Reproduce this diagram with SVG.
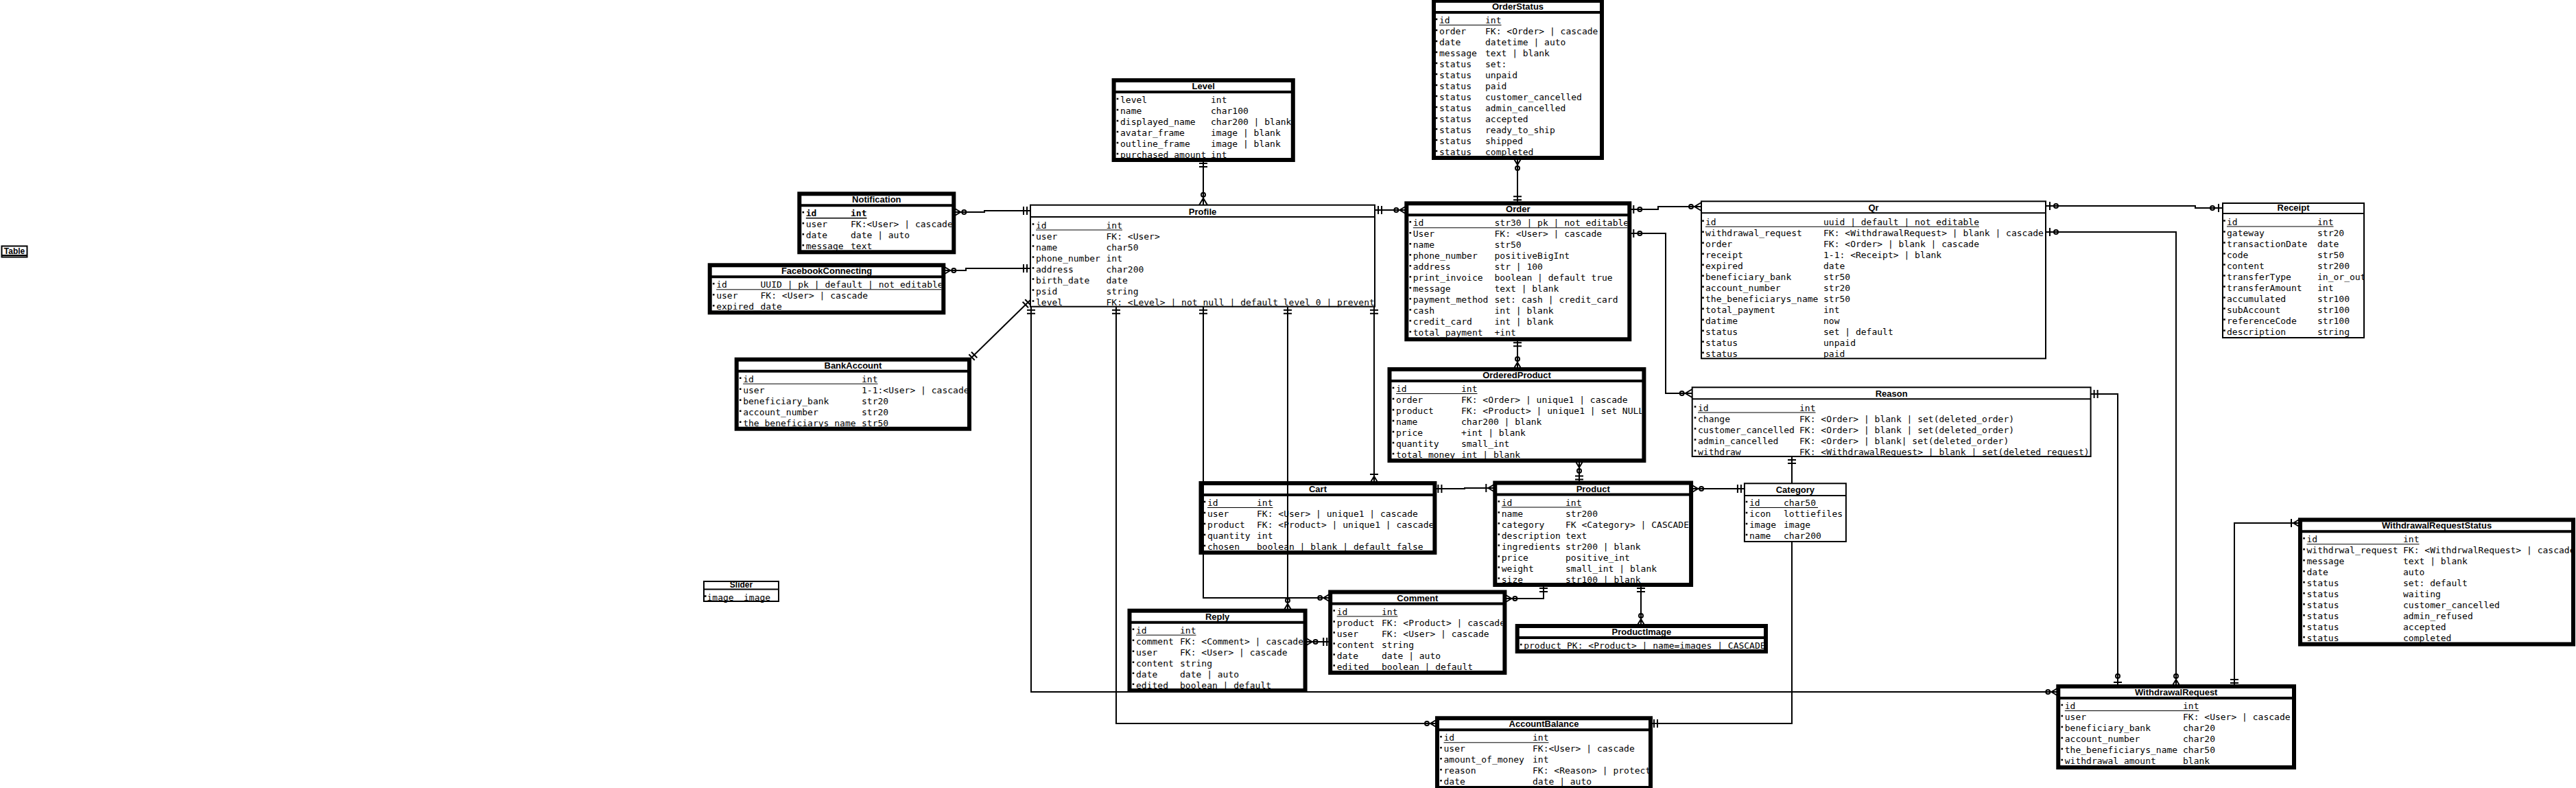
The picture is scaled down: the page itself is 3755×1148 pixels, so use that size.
<svg xmlns="http://www.w3.org/2000/svg" width="3755" height="1148" viewBox="0 0 3755 1148">
<style>
.k{fill:#fff;stroke:#000;stroke-width:6}
.kn{fill:none;stroke:#000;stroke-width:6}
.t{fill:#fff;stroke:#000;stroke-width:2}
.s4{stroke:#000;stroke-width:4;fill:none}
.s2{stroke:#000;stroke-width:2;fill:none}
.u{stroke:#000;stroke-width:1;fill:none}
.h{font-family:"Liberation Sans",Arial,sans-serif;font-weight:bold;font-size:13px;text-anchor:middle;fill:#000}
.r{font-family:"DejaVu Sans Mono",monospace;font-size:13px;fill:#000}
.b{font-weight:bold}
.c{fill:none;stroke:#000;stroke-width:2}
.bl{fill:none;stroke:#000;stroke-width:2.6;stroke-dasharray:2.6 13.4}
</style>
<defs>
<marker id="mOne" viewBox="-30 -12 34 24" refX="0" refY="0" markerWidth="34" markerHeight="24" markerUnits="userSpaceOnUse" orient="auto-start-reverse"><path d="M-5,-6V6M-10,-6V6" fill="none" stroke="#000" stroke-width="2"/></marker>
<marker id="mZM" viewBox="-30 -12 34 24" refX="0" refY="0" markerWidth="34" markerHeight="24" markerUnits="userSpaceOnUse" orient="auto-start-reverse"><path d="M0,-6L-10,0L0,6" fill="none" stroke="#000" stroke-width="2"/><circle cx="-15" cy="0" r="3" fill="none" stroke="#000" stroke-width="2"/></marker>
<marker id="mOM" viewBox="-30 -12 34 24" refX="0" refY="0" markerWidth="34" markerHeight="24" markerUnits="userSpaceOnUse" orient="auto-start-reverse"><path d="M0,-6L-10,0L0,6M-13,-6V6" fill="none" stroke="#000" stroke-width="2"/></marker>
<marker id="mZO" viewBox="-30 -12 34 24" refX="0" refY="0" markerWidth="34" markerHeight="24" markerUnits="userSpaceOnUse" orient="auto-start-reverse"><path d="M-6,-6V6" fill="none" stroke="#000" stroke-width="2"/><circle cx="-15" cy="0" r="3" fill="none" stroke="#000" stroke-width="2"/></marker>
<clipPath id="cOS"><rect x="2093" y="-2" width="239" height="235"/></clipPath>
<clipPath id="cLv"><rect x="1626.6" y="114" width="255.2" height="122"/></clipPath>
<clipPath id="cNt"><rect x="1168.3" y="279.3" width="219" height="91"/></clipPath>
<clipPath id="cFB"><rect x="1037.7" y="383.3" width="334.6" height="75"/></clipPath>
<clipPath id="cBA"><rect x="1076.7" y="520.7" width="333.3" height="107"/></clipPath>
<clipPath id="cPr"><rect x="1503" y="297.7" width="500" height="150"/></clipPath>
<clipPath id="cOr"><rect x="2053.3" y="293.3" width="319" height="204"/></clipPath>
<clipPath id="cQr"><rect x="2481" y="292.3" width="500" height="231"/></clipPath>
<clipPath id="cRc"><rect x="3241" y="295" width="204" height="198"/></clipPath>
<clipPath id="cRs"><rect x="2467.7" y="563.3" width="578.9" height="103"/></clipPath>
<clipPath id="cOP"><rect x="2028.5" y="535" width="364.9" height="139"/></clipPath>
<clipPath id="cCt"><rect x="1753.5" y="701" width="334.9" height="107"/></clipPath>
<clipPath id="cPd"><rect x="2182.3" y="700.5" width="279.8" height="154"/></clipPath>
<clipPath id="cCg"><rect x="2543.9" y="703.3" width="146" height="87"/></clipPath>
<clipPath id="cCm"><rect x="1942.2" y="859.5" width="248.2" height="124"/></clipPath>
<clipPath id="cRp"><rect x="1649.5" y="886.7" width="250.1" height="123"/></clipPath>
<clipPath id="cPI"><rect x="2214.7" y="909" width="356.3" height="43"/></clipPath>
<clipPath id="cAB"><rect x="2098" y="1043.3" width="305" height="107"/></clipPath>
<clipPath id="cWR"><rect x="3003.3" y="997" width="337.7" height="124"/></clipPath>
<clipPath id="cWS"><rect x="3356" y="754.3" width="392" height="188"/></clipPath>
</defs>
<rect width="3755" height="1148" fill="#fff"/>

<g id="connectors">
<path class="c" d="M1390.3,309H1435V307H1502" marker-start="url(#mZM)" marker-end="url(#mOne)"/>
<path class="c" d="M1375.3,394H1408V391H1502" marker-start="url(#mZM)" marker-end="url(#mOne)"/>
<path class="c" d="M1413,524L1502,437" marker-start="url(#mOne)" marker-end="url(#mOne)"/>
<path class="c" d="M1754,233V298.7" marker-start="url(#mOne)" marker-end="url(#mZM)"/>
<path class="c" d="M2004,306H2050.3" marker-start="url(#mOne)" marker-end="url(#mZM)"/>
<path class="c" d="M2212,230V296.3" marker-start="url(#mZM)" marker-end="url(#mOne)"/>
<path class="c" d="M2212,494.3V538" marker-start="url(#mOne)" marker-end="url(#mZM)"/>
<path class="c" d="M2302,671V703.5" marker-start="url(#mZM)" marker-end="url(#mOne)"/>
<path class="c" d="M2091.4,712H2135V711H2179.3" marker-start="url(#mOne)" marker-end="url(#mOM)"/>
<path class="c" d="M2465.1,712H2542.9" marker-start="url(#mZM)" marker-end="url(#mOne)"/>
<path class="c" d="M2612,665V1054H2406" marker-start="url(#mOne)" marker-end="url(#mOne)"/>
<path class="c" d="M1627,446.7V1054H2095" marker-start="url(#mOne)" marker-end="url(#mZM)"/>
<path class="c" d="M1503,446.7V1008H3000.3" marker-start="url(#mOne)" marker-end="url(#mZM)"/>
<path class="c" d="M1754,446.7V871H1939.2" marker-start="url(#mOne)" marker-end="url(#mZM)"/>
<path class="c" d="M1877,446.7V889.7" marker-start="url(#mOne)" marker-end="url(#mZM)"/>
<path class="c" d="M2003,446.7V704" marker-start="url(#mOne)" marker-end="url(#mOM)"/>
<path class="c" d="M2250,852V872H2193.4" marker-start="url(#mOne)" marker-end="url(#mZM)"/>
<path class="c" d="M2392,852V912" marker-start="url(#mOne)" marker-end="url(#mZM)"/>
<path class="c" d="M1902.6,935H1939.2" marker-start="url(#mZM)" marker-end="url(#mOne)"/>
<path class="c" d="M2375.3,305H2417V301H2480" marker-start="url(#mZO)" marker-end="url(#mZM)"/>
<path class="c" d="M2375.3,340H2428V573H2466.7" marker-start="url(#mZO)" marker-end="url(#mZM)"/>
<path class="c" d="M2982,300H3200V303H3240" marker-start="url(#mZO)" marker-end="url(#mZO)"/>
<path class="c" d="M2982,338H3172V1000" marker-start="url(#mZO)" marker-end="url(#mZM)"/>
<path class="c" d="M3047.6,574H3087V1000" marker-start="url(#mOne)" marker-end="url(#mZO)"/>
<path class="c" d="M3353,762H3257V1000" marker-start="url(#mOM)" marker-end="url(#mOne)"/>
</g>

<g id="Table">
<rect class="t" x="2.5" y="358.5" width="37" height="16"/>
<path class="s2" d="M2,372H40"/>
<text class="h" x="21" y="369.5" style="font-size:12px">Table</text>
</g>

<g id="Slider">
<rect class="t" x="1026" y="847" width="109" height="29"/>
<path class="s2" d="M1026,858.5H1135"/>
<text class="h" x="1080.5" y="856" style="font-size:12px">Slider</text>
<text class="r"><tspan x="1030.5" y="874.5">image</tspan><tspan x="1084">image</tspan></text>
<path class="bl" d="M1028.3,867.2V883.2"/>
</g>

<g id="OrderStatus">
<rect class="k" x="2090" y="1" width="245" height="229"/>
<path class="s4" d="M2090,18H2335"/>
<text class="h" x="2212.5" y="14">OrderStatus</text>
<g clip-path="url(#cOS)">
<text class="r"><tspan x="2098" y="34">id</tspan><tspan x="2165">int</tspan><tspan x="2098" y="50">order</tspan><tspan x="2165">FK: &lt;Order&gt; | cascade</tspan><tspan x="2098" y="66">date</tspan><tspan x="2165">datetime | auto</tspan><tspan x="2098" y="82">message</tspan><tspan x="2165">text | blank</tspan><tspan x="2098" y="98">status</tspan><tspan x="2165">set:</tspan><tspan x="2098" y="114">status</tspan><tspan x="2165">unpaid</tspan><tspan x="2098" y="130">status</tspan><tspan x="2165">paid</tspan><tspan x="2098" y="146">status</tspan><tspan x="2165">customer_cancelled</tspan><tspan x="2098" y="162">status</tspan><tspan x="2165">admin_cancelled</tspan><tspan x="2098" y="178">status</tspan><tspan x="2165">accepted</tspan><tspan x="2098" y="194">status</tspan><tspan x="2165">ready_to_ship</tspan><tspan x="2098" y="210">status</tspan><tspan x="2165">shipped</tspan><tspan x="2098" y="226">status</tspan><tspan x="2165">completed</tspan></text>
<path class="u" d="M2098,36.5H2188.5"/>
</g>
<path class="bl" d="M2094,26.7V234.7"/>
</g>

<g id="Level">
<rect class="k" x="1623.6" y="117" width="261.2" height="116"/>
<path class="s4" d="M1623.6,134H1884.8"/>
<text class="h" x="1754.2" y="130">Level</text>
<g clip-path="url(#cLv)">
<text class="r"><tspan x="1633" y="150">level</tspan><tspan x="1765">int</tspan><tspan x="1633" y="166">name</tspan><tspan x="1765">char100</tspan><tspan x="1633" y="182">displayed_name</tspan><tspan x="1765">char200 | blank</tspan><tspan x="1633" y="198">avatar_frame</tspan><tspan x="1765">image | blank</tspan><tspan x="1633" y="214">outline_frame</tspan><tspan x="1765">image | blank</tspan><tspan x="1633" y="230">purchased_amount</tspan><tspan x="1765">int</tspan></text>
</g>
<path class="bl" d="M1629,142.7V238.7"/>
</g>

<g id="Notification">
<rect class="k" x="1165.3" y="282.3" width="225" height="85"/>
<path class="s4" d="M1165.3,299.3H1390.3"/>
<text class="h" x="1277.8" y="295.3">Notification</text>
<g clip-path="url(#cNt)">
<text class="r"><tspan class="b" x="1174.8" y="315.3">id</tspan><tspan class="b" x="1240">int</tspan><tspan x="1174.8" y="331.3">user</tspan><tspan x="1240">FK:&lt;User&gt; | cascade</tspan><tspan x="1174.8" y="347.3">date</tspan><tspan x="1240">date | auto</tspan><tspan x="1174.8" y="363.3">message</tspan><tspan x="1240">text</tspan></text>
<path class="u" style="stroke-width:1.5" d="M1174.8,317.8H1263.5"/>
</g>
<path class="bl" d="M1170.8,308V372"/>
</g>

<g id="FacebookConnecting">
<rect class="k" x="1034.7" y="386.3" width="340.6" height="69"/>
<path class="s4" d="M1034.7,403.3H1375.3"/>
<text class="h" x="1205" y="399.3">FacebookConnecting</text>
<g clip-path="url(#cFB)">
<text class="r"><tspan x="1044.2" y="419.3">id</tspan><tspan x="1108.5">UUID | pk | default | not editable</tspan><tspan x="1044.2" y="435.3">user</tspan><tspan x="1108.5">FK: &lt;User&gt; | cascade</tspan><tspan x="1044.2" y="451.3">expired</tspan><tspan x="1108.5">date</tspan></text>
<path class="u" d="M1044.2,421.8H1375"/>
</g>
<path class="bl" d="M1040.2,412V460"/>
</g>

<g id="BankAccount">
<rect class="k" x="1073.7" y="523.7" width="339.3" height="101"/>
<path class="s4" d="M1073.7,540.7H1413"/>
<text class="h" x="1243.4" y="536.7">BankAccount</text>
<g clip-path="url(#cBA)">
<text class="r"><tspan x="1083.2" y="556.7">id</tspan><tspan x="1256">int</tspan><tspan x="1083.2" y="572.7">user</tspan><tspan x="1256">1-1:&lt;User&gt; | cascade</tspan><tspan x="1083.2" y="588.7">beneficiary_bank</tspan><tspan x="1256">str20</tspan><tspan x="1083.2" y="604.7">account_number</tspan><tspan x="1256">str20</tspan><tspan x="1083.2" y="620.7">the_beneficiarys_name</tspan><tspan x="1256">str50</tspan></text>
<path class="u" d="M1083.2,559.2H1279.5"/>
</g>
<path class="bl" d="M1079.2,549.4V629.4"/>
</g>

<g id="Profile">
<rect class="t" x="1502" y="298.7" width="502" height="148"/>
<path class="s2" d="M1502,316H2004"/>
<text class="h" x="1753" y="312.5">Profile</text>
<g clip-path="url(#cPr)">
<text class="r"><tspan x="1510" y="332.5">id</tspan><tspan x="1612.5">int</tspan><tspan x="1510" y="348.5">user</tspan><tspan x="1612.5">FK: &lt;User&gt;</tspan><tspan x="1510" y="364.5">name</tspan><tspan x="1612.5">char50</tspan><tspan x="1510" y="380.5">phone_number</tspan><tspan x="1612.5">int</tspan><tspan x="1510" y="396.5">address</tspan><tspan x="1612.5">char200</tspan><tspan x="1510" y="412.5">birth_date</tspan><tspan x="1612.5">date</tspan><tspan x="1510" y="428.5">psid</tspan><tspan x="1612.5">string</tspan><tspan x="1510" y="444.5">level</tspan><tspan x="1612.5">FK: &lt;Level&gt; | not null | default level 0 | prevent</tspan></text>
<path class="u" d="M1510,335H1636"/>
</g>
<path class="bl" d="M1506,325.2V453.2"/>
</g>

<g id="Order">
<rect class="k" x="2050.3" y="296.3" width="325" height="198"/>
<path class="s4" d="M2050.3,313.3H2375.3"/>
<text class="h" x="2212.8" y="309.3">Order</text>
<g clip-path="url(#cOr)">
<text class="r"><tspan x="2059.8" y="329.3">id</tspan><tspan x="2178.5">str30 | pk | not editable</tspan><tspan x="2059.8" y="345.3">User</tspan><tspan x="2178.5">FK: &lt;User&gt; | cascade</tspan><tspan x="2059.8" y="361.3">name</tspan><tspan x="2178.5">str50</tspan><tspan x="2059.8" y="377.3">phone_number</tspan><tspan x="2178.5">positiveBigInt</tspan><tspan x="2059.8" y="393.3">address</tspan><tspan x="2178.5">str | 100</tspan><tspan x="2059.8" y="409.3">print_invoice</tspan><tspan x="2178.5">boolean | default true</tspan><tspan x="2059.8" y="425.3">message</tspan><tspan x="2178.5">text | blank</tspan><tspan x="2059.8" y="441.3">payment_method</tspan><tspan x="2178.5">set: cash | credit_card</tspan><tspan x="2059.8" y="457.3">cash</tspan><tspan x="2178.5">int | blank</tspan><tspan x="2059.8" y="473.3">credit_card</tspan><tspan x="2178.5">int | blank</tspan><tspan x="2059.8" y="489.3">total_payment</tspan><tspan x="2178.5">+int</tspan></text>
<path class="u" d="M2059.8,331.8H2375"/>
</g>
<path class="bl" d="M2055.8,322V498"/>
</g>

<g id="Qr">
<rect class="t" x="2480" y="293.3" width="502" height="229"/>
<path class="s2" d="M2480,310.3H2982"/>
<text class="h" x="2731" y="307">Qr</text>
<g clip-path="url(#cQr)">
<text class="r"><tspan x="2486" y="327.8">id</tspan><tspan x="2658">uuid | default | not editable</tspan><tspan x="2486" y="343.8">withdrawal_request</tspan><tspan x="2658">FK: &lt;WithdrawalRequest&gt; | blank | cascade</tspan><tspan x="2486" y="359.8">order</tspan><tspan x="2658">FK: &lt;Order&gt; | blank | cascade</tspan><tspan x="2486" y="375.8">receipt</tspan><tspan x="2658">1-1: &lt;Receipt&gt; | blank</tspan><tspan x="2486" y="391.8">expired</tspan><tspan x="2658">date</tspan><tspan x="2486" y="407.8">beneficiary_bank</tspan><tspan x="2658">str50</tspan><tspan x="2486" y="423.8">account_number</tspan><tspan x="2658">str20</tspan><tspan x="2486" y="439.8">the_beneficiarys_name</tspan><tspan x="2658">str50</tspan><tspan x="2486" y="455.8">total_payment</tspan><tspan x="2658">int</tspan><tspan x="2486" y="471.8">datime</tspan><tspan x="2658">now</tspan><tspan x="2486" y="487.8">status</tspan><tspan x="2658">set | default</tspan><tspan x="2486" y="503.8">status</tspan><tspan x="2658">unpaid</tspan><tspan x="2486" y="519.8">status</tspan><tspan x="2658">paid</tspan></text>
<path class="u" d="M2486,330.3H2885"/>
</g>
<path class="bl" d="M2482.5,320.5V528.5"/>
</g>

<g id="Receipt">
<rect class="t" x="3240" y="296" width="206" height="196"/>
<path class="s2" d="M3240,311H3446"/>
<text class="h" x="3343" y="307">Receipt</text>
<g clip-path="url(#cRc)">
<text class="r"><tspan x="3246" y="327.5">id</tspan><tspan x="3378">int</tspan><tspan x="3246" y="343.5">gateway</tspan><tspan x="3378">str20</tspan><tspan x="3246" y="359.5">transactionDate</tspan><tspan x="3378">date</tspan><tspan x="3246" y="375.5">code</tspan><tspan x="3378">str50</tspan><tspan x="3246" y="391.5">content</tspan><tspan x="3378">str200</tspan><tspan x="3246" y="407.5">transferType</tspan><tspan x="3378">in_or_out</tspan><tspan x="3246" y="423.5">transferAmount</tspan><tspan x="3378">int</tspan><tspan x="3246" y="439.5">accumulated</tspan><tspan x="3378">str100</tspan><tspan x="3246" y="455.5">subAccount</tspan><tspan x="3378">str100</tspan><tspan x="3246" y="471.5">referenceCode</tspan><tspan x="3378">str100</tspan><tspan x="3246" y="487.5">description</tspan><tspan x="3378">string</tspan></text>
<path class="u" d="M3246,330H3401.5"/>
</g>
<path class="bl" d="M3242.5,320.2V496.2"/>
</g>

<g id="Reason">
<rect class="t" x="2466.7" y="564.3" width="580.9" height="100.7"/>
<path class="s2" d="M2466.7,581.3H3047.6"/>
<text class="h" x="2757.2" y="577.5">Reason</text>
<g clip-path="url(#cRs)">
<text class="r"><tspan x="2475" y="598.5">id</tspan><tspan x="2623">int</tspan><tspan x="2475" y="614.5">change</tspan><tspan x="2623">FK: &lt;Order&gt; | blank | set(deleted_order)</tspan><tspan x="2475" y="630.5">customer_cancelled</tspan><tspan x="2623">FK: &lt;Order&gt; | blank | set(deleted_order)</tspan><tspan x="2475" y="646.5">admin_cancelled</tspan><tspan x="2623">FK: &lt;Order&gt; | blank| set(deleted_order)</tspan><tspan x="2475" y="662.5">withdraw</tspan><tspan x="2623">FK: &lt;WithdrawalRequest&gt; | blank | set(deleted_request)</tspan></text>
<path class="u" d="M2475,601H2646.5"/>
</g>
<path class="bl" d="M2471,591.2V671.2"/>
</g>

<g id="OrderedProduct">
<rect class="k" x="2025.5" y="538" width="370.9" height="133"/>
<path class="s4" d="M2025.5,555H2396.4"/>
<text class="h" x="2211" y="551">OrderedProduct</text>
<g clip-path="url(#cOP)">
<text class="r"><tspan x="2035" y="571">id</tspan><tspan x="2130">int</tspan><tspan x="2035" y="587">order</tspan><tspan x="2130">FK: &lt;Order&gt; | unique1 | cascade</tspan><tspan x="2035" y="603">product</tspan><tspan x="2130">FK: &lt;Product&gt; | unique1 | set NULL</tspan><tspan x="2035" y="619">name</tspan><tspan x="2130">char200 | blank</tspan><tspan x="2035" y="635">price</tspan><tspan x="2130">+int | blank</tspan><tspan x="2035" y="651">quantity</tspan><tspan x="2130">small_int</tspan><tspan x="2035" y="667">total_money</tspan><tspan x="2130">int | blank</tspan></text>
<path class="u" d="M2035,573.5H2153.5"/>
</g>
<path class="bl" d="M2031,563.7V675.7"/>
</g>

<g id="Cart">
<rect class="kn" x="1750.5" y="704" width="340.9" height="101"/>
<path class="s4" d="M1750.5,721H2091.4"/>
<text class="h" x="1921" y="717">Cart</text>
<g clip-path="url(#cCt)">
<text class="r"><tspan x="1760" y="737">id</tspan><tspan x="1832">int</tspan><tspan x="1760" y="753">user</tspan><tspan x="1832">FK: &lt;User&gt; | unique1 | cascade</tspan><tspan x="1760" y="769">product</tspan><tspan x="1832">FK: &lt;Product&gt; | unique1 | cascade</tspan><tspan x="1760" y="785">quantity</tspan><tspan x="1832">int</tspan><tspan x="1760" y="801">chosen</tspan><tspan x="1832">boolean | blank | default false</tspan></text>
<path class="u" d="M1760,739.5H1855.5"/>
</g>
<path class="bl" d="M1756,729.7V809.7"/>
</g>

<g id="Product">
<rect class="k" x="2179.3" y="703.5" width="285.8" height="148.5"/>
<path class="s4" d="M2179.3,720.5H2465.1"/>
<text class="h" x="2322.2" y="716.5">Product</text>
<g clip-path="url(#cPd)">
<text class="r"><tspan x="2188.8" y="736.5">id</tspan><tspan x="2282">int</tspan><tspan x="2188.8" y="752.5">name</tspan><tspan x="2282">str200</tspan><tspan x="2188.8" y="768.5">category</tspan><tspan x="2282">FK &lt;Category&gt; | CASCADE</tspan><tspan x="2188.8" y="784.5">description</tspan><tspan x="2282">text</tspan><tspan x="2188.8" y="800.5">ingredients</tspan><tspan x="2282">str200 | blank</tspan><tspan x="2188.8" y="816.5">price</tspan><tspan x="2282">positive_int</tspan><tspan x="2188.8" y="832.5">weight</tspan><tspan x="2282">small_int | blank</tspan><tspan x="2188.8" y="848.5">size</tspan><tspan x="2282">str100 | blank</tspan></text>
<path class="u" d="M2188.8,739H2305.5"/>
</g>
<path class="bl" d="M2184.8,729.2V857.2"/>
</g>

<g id="Category">
<rect class="t" x="2542.9" y="704.3" width="148" height="84.7"/>
<path class="s2" d="M2542.9,722H2690.9"/>
<text class="h" x="2616.9" y="718">Category</text>
<g clip-path="url(#cCg)">
<text class="r"><tspan x="2550" y="737">id</tspan><tspan x="2600">char50</tspan><tspan x="2550" y="753">icon</tspan><tspan x="2600">lottiefiles</tspan><tspan x="2550" y="769">image</tspan><tspan x="2600">image</tspan><tspan x="2550" y="785">name</tspan><tspan x="2600">char200</tspan></text>
<path class="u" d="M2550,739.5H2650"/>
</g>
<path class="bl" d="M2546,729.7V793.7"/>
</g>

<g id="Comment">
<rect class="k" x="1939.2" y="862.5" width="254.2" height="117.5"/>
<path class="s4" d="M1939.2,879.5H2193.4"/>
<text class="h" x="2066.3" y="875.5">Comment</text>
<g clip-path="url(#cCm)">
<text class="r"><tspan x="1948.7" y="895.5">id</tspan><tspan x="2014">int</tspan><tspan x="1948.7" y="911.5">product</tspan><tspan x="2014">FK: &lt;Product&gt; | cascade</tspan><tspan x="1948.7" y="927.5">user</tspan><tspan x="2014">FK: &lt;User&gt; | cascade</tspan><tspan x="1948.7" y="943.5">content</tspan><tspan x="2014">string</tspan><tspan x="1948.7" y="959.5">date</tspan><tspan x="2014">date | auto</tspan><tspan x="1948.7" y="975.5">edited</tspan><tspan x="2014">boolean | default</tspan></text>
<path class="u" d="M1948.7,898H2037.5"/>
</g>
<path class="bl" d="M1944.7,888.2V984.2"/>
</g>

<g id="Reply">
<rect class="k" x="1646.5" y="889.7" width="256.1" height="116.3"/>
<path class="s4" d="M1646.5,906.7H1902.6"/>
<text class="h" x="1774.6" y="902.7">Reply</text>
<g clip-path="url(#cRp)">
<text class="r"><tspan x="1656" y="922.7">id</tspan><tspan x="1720">int</tspan><tspan x="1656" y="938.7">comment</tspan><tspan x="1720">FK: &lt;Comment&gt; | cascade</tspan><tspan x="1656" y="954.7">user</tspan><tspan x="1720">FK: &lt;User&gt; | cascade</tspan><tspan x="1656" y="970.7">content</tspan><tspan x="1720">string</tspan><tspan x="1656" y="986.7">date</tspan><tspan x="1720">date | auto</tspan><tspan x="1656" y="1002.7">edited</tspan><tspan x="1720">boolean | default</tspan></text>
<path class="u" d="M1656,925.2H1743.5"/>
</g>
<path class="bl" d="M1652,915.4V1011.4"/>
</g>

<g id="ProductImage">
<rect class="k" x="2211.7" y="912" width="362.3" height="37"/>
<path class="s4" d="M2211.7,929H2574"/>
<text class="h" x="2392.9" y="925">ProductImage</text>
<g clip-path="url(#cPI)">
<text class="r"><tspan x="2221.2" y="945">product</tspan><tspan x="2284">PK: &lt;Product&gt; | name=images | CASCADE</tspan></text>
</g>
<path class="bl" d="M2217.2,937.7V953.7"/>
</g>

<g id="AccountBalance">
<rect class="k" x="2095" y="1046.3" width="311" height="101.7"/>
<path class="s4" d="M2095,1063.3H2406"/>
<text class="h" x="2250.5" y="1059.3">AccountBalance</text>
<g clip-path="url(#cAB)">
<text class="r"><tspan x="2104.5" y="1079.3">id</tspan><tspan x="2234">int</tspan><tspan x="2104.5" y="1095.3">user</tspan><tspan x="2234">FK:&lt;User&gt; | cascade</tspan><tspan x="2104.5" y="1111.3">amount_of_money</tspan><tspan x="2234">int</tspan><tspan x="2104.5" y="1127.3">reason</tspan><tspan x="2234">FK: &lt;Reason&gt; | protect</tspan><tspan x="2104.5" y="1143.3">date</tspan><tspan x="2234">date | auto</tspan></text>
<path class="u" d="M2104.5,1081.8H2257.5"/>
</g>
<path class="bl" d="M2100.5,1072V1152"/>
</g>

<g id="WithdrawalRequest">
<rect class="k" x="3000.3" y="1000" width="343.7" height="118"/>
<path class="s4" d="M3000.3,1017H3344"/>
<text class="h" x="3172.2" y="1013">WithdrawalRequest</text>
<g clip-path="url(#cWR)">
<text class="r"><tspan x="3009.8" y="1033">id</tspan><tspan x="3182">int</tspan><tspan x="3009.8" y="1049">user</tspan><tspan x="3182">FK: &lt;User&gt; | cascade</tspan><tspan x="3009.8" y="1065">beneficiary_bank</tspan><tspan x="3182">char20</tspan><tspan x="3009.8" y="1081">account_number</tspan><tspan x="3182">char20</tspan><tspan x="3009.8" y="1097">the_beneficiarys_name</tspan><tspan x="3182">char50</tspan><tspan x="3009.8" y="1113">withdrawal_amount</tspan><tspan x="3182">blank</tspan></text>
<path class="u" d="M3009.8,1035.5H3205.5"/>
</g>
<path class="bl" d="M3005.8,1025.7V1121.7"/>
</g>

<g id="WithdrawalRequestStatus">
<rect class="k" x="3353" y="757.3" width="398" height="181.2"/>
<path class="s4" d="M3353,774.3H3751"/>
<text class="h" x="3552" y="770.3">WithdrawalRequestStatus</text>
<g clip-path="url(#cWS)">
<text class="r"><tspan x="3362.5" y="790.3">id</tspan><tspan x="3503">int</tspan><tspan x="3362.5" y="806.3">withdrwal_request</tspan><tspan x="3503">FK: &lt;WithdrwalRequest&gt; | cascade</tspan><tspan x="3362.5" y="822.3">message</tspan><tspan x="3503">text | blank</tspan><tspan x="3362.5" y="838.3">date</tspan><tspan x="3503">auto</tspan><tspan x="3362.5" y="854.3">status</tspan><tspan x="3503">set: default</tspan><tspan x="3362.5" y="870.3">status</tspan><tspan x="3503">waiting</tspan><tspan x="3362.5" y="886.3">status</tspan><tspan x="3503">customer_cancelled</tspan><tspan x="3362.5" y="902.3">status</tspan><tspan x="3503">admin_refused</tspan><tspan x="3362.5" y="918.3">status</tspan><tspan x="3503">accepted</tspan><tspan x="3362.5" y="934.3">status</tspan><tspan x="3503">completed</tspan></text>
<path class="u" d="M3362.5,792.8H3526.5"/>
</g>
<path class="bl" d="M3358.5,783V943"/>
</g>
</svg>
